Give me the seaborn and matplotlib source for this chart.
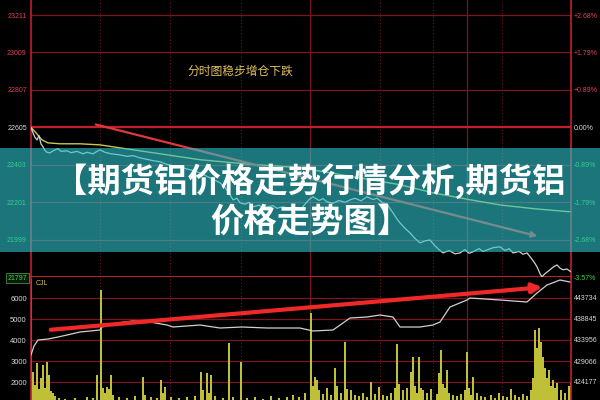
import matplotlib
matplotlib.use("Agg")
import matplotlib.pyplot as plt
import seaborn as sns
from matplotlib.patches import Rectangle

# 价格轴刻度 (左) 与 涨跌幅 (右)
price_ticks = [21797, 21999, 22201, 22403, 22605, 22807, 23009, 23211]
pct_labels = ["-3.57%", "-2.68%", "-1.79%", "-0.89%", "0.00%", "+0.89%", "+1.79%", "+2.68%"]
# 成交量轴 (左) 与 持仓量轴 (右)
vol_ticks = [2000, 3000, 4000, 5000, 6000]
oi_ticks = [424177, 429066, 433956, 438845, 443734]

# 分时价格
price_min = [0, 1, 2, 3, 4, 5, 6, 7, 8, 9.5, 11, 13.5, 15, 18, 20, 23, 26, 28, 31, 33,
             34.5, 37, 40, 44.5, 48, 51, 54.5, 58, 61, 64.5, 68, 71, 74.5, 78, 81, 84.5,
             88, 91, 94.5, 97, 99, 101, 103, 104.5, 107, 109, 111, 114, 116, 118, 121,
             123, 126, 129, 131, 134.5, 137, 139, 141, 144, 146, 148, 151, 154, 157,
             159.5, 162, 165, 168, 171, 173, 176, 178, 181, 183, 184.5, 187, 189.5, 192,
             194.5, 197, 199.5, 202, 204, 206, 209, 212, 214.5, 217, 219, 221, 224, 226,
             228, 231, 234.5, 237, 239, 241, 244, 246, 248, 250, 252, 253, 254.5, 255.5,
             257, 259.5, 261, 263, 264.5, 266, 268, 270]
price_val = [22605, 22575, 22550, 22537, 22560, 22515, 22500, 22480, 22470, 22467, 22478,
             22490, 22475, 22478, 22468, 22475, 22462, 22470, 22462, 22475, 22483, 22470,
             22462, 22456, 22448, 22452, 22440, 22432, 22425, 22419, 22405, 22398, 22392,
             22380, 22372, 22359, 22340, 22325, 22305, 22280, 22250, 22213, 22222, 22197,
             22190, 22200, 22176, 22185, 22170, 22176, 22182, 22168, 22176, 22165, 22172,
             22160, 22190, 22215, 22230, 22210, 22220, 22203, 22195, 22210, 22200, 22213,
             22222, 22208, 22230, 22215, 22222, 22197, 22190, 22143, 22110, 22089, 22060,
             22035, 22005, 21981, 21992, 21997, 21965, 21945, 21927, 21940, 21922, 21927,
             21945, 21925, 21933, 21950, 21935, 21943, 21955, 21960, 21940, 21950, 21927,
             21935, 21920, 21927, 21900, 21870, 21852, 21815, 21798, 21815, 21836, 21850,
             21862, 21845, 21836, 21840, 21825]

# 均价线
avg_min = [0, 2.5, 5.5, 8.5, 14.5, 24.5, 34.5, 59.5, 84.5, 110, 134.5, 160, 184.5, 201,
           219.5, 234.5, 252, 269.5]
avg_val = [22605, 22575, 22537, 22521, 22516, 22516, 22510, 22470, 22430, 22405, 22387,
           22340, 22295, 22251, 22214, 22186, 22165, 22149]

# 持仓量
oi_min = [0, 1.5, 3.5, 8.5, 13.5, 18, 24.5, 34.5, 35.5, 43, 51, 59.5, 68, 71, 84.5, 94.5,
          105.5, 118, 134.5, 141, 151, 156, 159.5, 168, 174.5, 181, 184.5, 194.5, 201,
          204.5, 209.5, 218, 219.5, 234.5, 248, 253, 258, 264.5, 269.5]
oi_val = [430463, 432558, 433955, 434187, 434653, 435119, 435817, 436283, 436981, 437912,
          438378, 438145, 437447, 436981, 437447, 436748, 436981, 436748, 436748, 436050,
          436283, 437912, 439076, 439309, 439775, 439309, 436981, 436981, 437447, 438145,
          441637, 443267, 443732, 443267, 442801, 444896, 446759, 447923, 447457]

# 成交量 (CJL)
vol_min = [0, 1, 2, 3, 4, 5, 6, 7, 8, 9, 10, 11, 12, 14, 17, 22, 28, 31, 33, 35, 36, 37,
           38, 39, 40, 41, 44, 48, 52, 56, 57, 60, 63, 65, 66, 67, 70, 74, 78, 82, 85, 86,
           88, 89, 90, 92, 96, 99, 101, 105, 108, 112, 116, 120, 124, 128, 131, 134, 137,
           140, 141, 142, 143, 144, 146, 148, 150, 152, 153, 155, 157, 158, 160, 162, 164,
           166, 168, 170, 172, 174, 176, 178, 180, 182, 183, 184, 186, 188, 190, 191, 192,
           193, 194, 195, 196, 198, 200, 203, 204, 205, 206, 207, 208, 209, 211, 213, 215,
           217, 218, 219, 220, 221, 223, 225, 227, 230, 232, 234, 236, 238, 240, 242, 244,
           246, 248, 250, 251, 252, 253, 254, 255, 256, 257, 258, 259, 260, 261, 262, 263,
           265, 267, 269, 270]
vol_val = [6900, 2480, 1850, 2910, 1650, 2190, 2810, 1700, 2950, 2330, 1550, 1480, 1350,
           1250, 1200, 1250, 1300, 1250, 2330, 6380, 1710, 1500, 1760, 1650, 2330, 1400,
           1300, 1250, 1350, 2240, 1400, 1300, 1250, 2100, 1500, 1760, 1300, 1250, 1300,
           1350, 2480, 1600, 2430, 1500, 2330, 1350, 1250, 3860, 1300, 2950, 1250, 1300,
           1200, 1350, 1250, 1300, 1400, 1300, 1500, 5290, 1800, 2240, 2100, 1600, 1450,
           1700, 1400, 2670, 1800, 1500, 3900, 1650, 1620, 1400, 1350, 1500, 1300, 2000,
           1450, 1760, 1400, 1350, 1500, 1700, 3800, 1900, 1600, 1700, 2480, 3190, 1800,
           1500, 3190, 1700, 1600, 1500, 1650, 1450, 2430, 3520, 1900, 1700, 2570, 1500,
           1400, 1350, 1450, 1600, 3430, 1700, 1400, 2240, 1500, 1350, 1300, 1400, 1250,
           1500, 1350, 1300, 1650, 1400, 1300, 1450, 1350, 1600, 2200, 4480, 3600, 4570,
           3900, 3190, 2670, 2200, 2570, 1800, 2100, 1700, 1950, 1600, 1500, 1800, 1950]

# 趋势箭头 (起点, 终点)
down_arrow_min = [31, 254.5]
down_arrow_val = [22624, 22014]
up_arrow_min = [8.5, 257]
up_arrow_val = [4476, 6524]

# 时间分隔线
sep_solid = [139.5, 218]
sep_dotted = [34.5, 69.5, 105, 174.5, 201, 235.5]

title_lines = ["【期货铝价格走势行情分析,期货铝", "价格走势图】"]
note_text = "分时图稳步增仓下跌"

RED_GRID = "#7a1420"
RED_AXIS = "#c0202c"
GREEN = "#3cd83c"
PINK = "#e0405a"
LIGHT = "#d8d8d8"
TICK_FONT = ["Liberation Sans", "DejaVu Sans"]

sns.set_theme(style="dark", rc={"axes.facecolor": "black", "figure.facecolor": "black"})
plt.rcParams["font.family"] = ["DejaVu Sans", "Noto Sans CJK SC"]

fig = plt.figure(figsize=(6, 4), dpi=100, facecolor="black")
ax_p = fig.add_axes([31 / 600, 1 - 277 / 400, 540 / 600, 277 / 400])
ax_v = fig.add_axes([31 / 600, 0, 540 / 600, 123 / 400])

for ax in (ax_p, ax_v):
    ax.set_facecolor("black")
    ax.set_xlim(0, 270)
    ax.set_xticks([])
    ax.grid(False)
    for s in ("top", "bottom"):
        ax.spines[s].set_visible(False)
    for s in ("left", "right"):
        ax.spines[s].set_color(RED_AXIS)
        ax.spines[s].set_linewidth(1.2)
    for x in sep_solid:
        ax.axvline(x, color=RED_GRID, lw=0.9, zorder=1)
    for x in sep_dotted:
        ax.axvline(x, color=RED_GRID, lw=0.8, ls=(0, (1, 2)), zorder=1)

# ---- 价格面板 ----
ax_p.set_ylim(21797, 23292)
for t in price_ticks:
    if t == 22605:
        ax_p.axhline(t, color=RED_AXIS, lw=1.6, zorder=1)
    elif t == 21797:
        ax_p.axhline(t, color=RED_AXIS, lw=1.4, zorder=1, clip_on=False)
    else:
        ax_p.axhline(t, color=RED_GRID, lw=0.9, zorder=1)

sns.lineplot(x=avg_min, y=avg_val, ax=ax_p, color="#c8c850", lw=1.0,
             estimator=None, sort=False, zorder=3)
sns.lineplot(x=price_min, y=price_val, ax=ax_p, color="#d0d0d0", lw=0.9,
             estimator=None, sort=False, zorder=4)

ax_p.annotate("", xy=(down_arrow_min[1], down_arrow_val[1]),
              xytext=(down_arrow_min[0], down_arrow_val[0]),
              arrowprops=dict(arrowstyle="-|>", color="#e03838", lw=1.6,
                              mutation_scale=8), zorder=5)
ax_p.text(78, 22905, note_text, color="#e0c060", fontsize=8.5, va="center", ha="left",
          family=["Noto Sans CJK SC", "DejaVu Sans"])

ax_p.set_yticks(price_ticks)
ax_p.set_yticklabels([str(t) for t in price_ticks], family=TICK_FONT)
ax_p.tick_params(axis="y", length=0, pad=3, labelsize=5)
for lab, t in zip(ax_p.get_yticklabels(), price_ticks):
    lab.set_color(PINK if t > 22605 else (LIGHT if t == 22605 else GREEN))
    if t == 21797:
        lab.set_bbox(dict(facecolor="#0a1a0a", edgecolor="#4a8a4a", pad=1.2, lw=0.6))
ax_p.set_ylabel("")

ax_pr = ax_p.twinx()
ax_pr.set_ylim(ax_p.get_ylim())
ax_pr.set_yticks(price_ticks)
ax_pr.set_yticklabels(pct_labels, family=TICK_FONT)
ax_pr.tick_params(axis="y", length=0, pad=2, labelsize=5)
ax_pr.grid(False)
for s in ax_pr.spines.values():
    s.set_visible(False)
for lab, t in zip(ax_pr.get_yticklabels(), price_ticks):
    lab.set_color(PINK if t > 22605 else (LIGHT if t == 22605 else GREEN))

# ---- 成交量 / 持仓面板 ----
ax_v.set_ylim(1143, 7000)
for t in vol_ticks:
    ax_v.axhline(t, color=RED_GRID, lw=0.9, zorder=1)
ax_v.bar(vol_min, vol_val, width=0.7, bottom=0, color="#c0c038",
         edgecolor="none", linewidth=0, zorder=2)
ax_v.set_yticks(vol_ticks)
ax_v.set_yticklabels([str(t) for t in vol_ticks], family=TICK_FONT)
ax_v.tick_params(axis="y", length=0, pad=3, labelsize=5.5, labelcolor=LIGHT)
ax_v.text(0.008, 0.95, "CJL", transform=ax_v.transAxes, color="#d8c050", fontsize=5,
          va="center", ha="left", family=TICK_FONT)

ax_oi = ax_v.twinx()
ax_oi.set_ylim(419986, 448623)
sns.lineplot(x=oi_min, y=oi_val, ax=ax_oi, color="#d0d0d0", lw=0.9,
             estimator=None, sort=False, zorder=3)
ax_oi.set_yticks(oi_ticks)
ax_oi.set_yticklabels([str(t) for t in oi_ticks], family=TICK_FONT)
ax_oi.tick_params(axis="y", length=0, pad=2, labelsize=5, labelcolor=LIGHT)
ax_oi.set_ylabel("")
ax_oi.grid(False)
for s in ax_oi.spines.values():
    s.set_visible(False)
ax_v.set_zorder(1)
ax_oi.set_zorder(2)
ax_oi.patch.set_visible(False)
ax_oi.annotate("", xy=(up_arrow_min[1], up_arrow_val[1]),
               xytext=(up_arrow_min[0], up_arrow_val[0]),
               xycoords=ax_v.transData, textcoords=ax_v.transData,
               arrowprops=dict(arrowstyle="-|>", color="#f02828", lw=3.0,
                               mutation_scale=14), zorder=6)

# ---- 标题横幅 ----
fig.add_artist(Rectangle((0, 1 - 252 / 400), 1, 104 / 400, transform=fig.transFigure,
                         facecolor="#30c4cc", alpha=0.6, edgecolor="none", zorder=20))
cjk = ["Noto Sans CJK SC", "DejaVu Sans"]
fig.text(310 / 600, 1 - 181 / 400, title_lines[0], color="white", fontsize=24,
         fontweight="bold", ha="center", va="center", family=cjk, zorder=21)
fig.text(310 / 600, 1 - 222 / 400, title_lines[1], color="white", fontsize=24,
         fontweight="bold", ha="center", va="center", family=cjk, zorder=21)

fig.savefig("out.png", dpi=100, facecolor="black")
